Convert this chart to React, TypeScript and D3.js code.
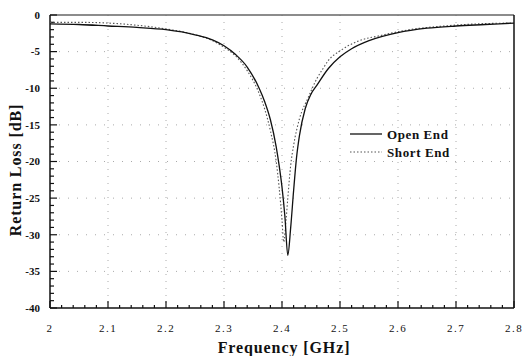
import React, { useEffect, useRef } from 'react';
import * as d3 from 'd3';

const openFreq = [2.0, 2.05, 2.1, 2.15, 2.2, 2.25, 2.28, 2.3, 2.32, 2.34, 2.36, 2.37, 2.38, 2.39, 2.395, 2.4, 2.405, 2.41, 2.415, 2.42, 2.425, 2.43, 2.44, 2.45, 2.46, 2.48, 2.5, 2.52, 2.55, 2.6, 2.65, 2.7, 2.75, 2.8];
const openLoss = [-1.2, -1.3, -1.5, -1.7, -2.0, -2.7, -3.4, -4.2, -5.4, -7.1, -9.9, -11.8, -14.3, -18.0, -20.5, -23.5, -27.5, -32.8, -29.0, -24.0, -19.5, -16.5, -12.8, -10.8, -9.6, -7.3, -5.7, -4.6, -3.5, -2.4, -1.8, -1.5, -1.3, -1.1];

const shortFreq = [2.0, 2.05, 2.1, 2.15, 2.2, 2.25, 2.28, 2.3, 2.32, 2.34, 2.36, 2.37, 2.38, 2.39, 2.395, 2.4, 2.403, 2.407, 2.41, 2.415, 2.42, 2.43, 2.445, 2.46, 2.47, 2.48, 2.5, 2.53, 2.57, 2.62, 2.68, 2.74, 2.8];
const shortLoss = [-1.0, -1.0, -1.1, -1.4, -1.9, -2.7, -3.5, -4.4, -5.6, -7.6, -10.6, -12.8, -15.8, -20.0, -23.5, -28.0, -31.0, -28.0, -25.0, -20.5, -17.8, -14.2, -11.3, -8.7, -7.4, -6.2, -4.9, -3.6, -2.8, -2.0, -1.5, -1.2, -1.1];

const xTicks = [2, 2.1, 2.2, 2.3, 2.4, 2.5, 2.6, 2.7, 2.8];
const yTicks = [0, -5, -10, -15, -20, -25, -30, -35, -40];
const legendNames = ['Open End', 'Short End'];

const Chart = ({ width = 524, height = 356 }) => {
  const svgRef = useRef(null);

  useEffect(() => {
    const svg = d3.select(svgRef.current);
    svg.selectAll('*').remove();

    const left = 50, right = 514, top = 15, bottom = 308;
    const x = d3.scaleLinear().domain([2, 2.8]).range([left, right]);
    const y = d3.scaleLinear().domain([-40, 0]).range([bottom, top]);
    const font = '"Liberation Serif", "DejaVu Serif", serif';

    // dotted grid
    const grid = svg.append('g');
    grid.selectAll('.gx')
      .data(xTicks.slice(1, -1))
      .enter()
      .append('line')
      .attr('x1', d => x(d)).attr('x2', d => x(d))
      .attr('y1', top).attr('y2', bottom)
      .attr('stroke', '#aaa')
      .attr('stroke-width', 1)
      .attr('stroke-dasharray', '1,6');
    grid.selectAll('.gy')
      .data(yTicks.slice(1, -1))
      .enter()
      .append('line')
      .attr('x1', left).attr('x2', right)
      .attr('y1', d => y(d)).attr('y2', d => y(d))
      .attr('stroke', '#aaa')
      .attr('stroke-width', 1)
      .attr('stroke-dasharray', '1,8');

    // frame
    svg.append('line').attr('x1', left).attr('x2', right).attr('y1', top).attr('y2', top)
      .attr('stroke', '#666').attr('stroke-width', 1.5);
    svg.append('line').attr('x1', right).attr('x2', right).attr('y1', top).attr('y2', bottom)
      .attr('stroke', '#111').attr('stroke-width', 1.5);
    svg.append('line').attr('x1', left).attr('x2', left).attr('y1', top).attr('y2', bottom)
      .attr('stroke', '#111').attr('stroke-width', 1.5);
    svg.append('line').attr('x1', left).attr('x2', right).attr('y1', bottom).attr('y2', bottom)
      .attr('stroke', '#111').attr('stroke-width', 1.5);

    // inward ticks
    const xMinor = d3.range(0, 41).map(i => 2 + i * 0.02);
    svg.selectAll('.xt')
      .data(xMinor)
      .enter()
      .append('line')
      .attr('x1', d => x(d)).attr('x2', d => x(d))
      .attr('y1', bottom)
      .attr('y2', (d, i) => bottom - (i % 5 === 0 ? 7 : 3))
      .attr('stroke', '#111')
      .attr('stroke-width', 1.2);
    const yMinor = d3.range(0, 41).map(i => -i);
    svg.selectAll('.yt')
      .data(yMinor)
      .enter()
      .append('line')
      .attr('y1', d => y(d)).attr('y2', d => y(d))
      .attr('x1', left)
      .attr('x2', (d, i) => left + (i % 5 === 0 ? 7 : 4))
      .attr('stroke', '#111')
      .attr('stroke-width', 1.2);

    // tick labels
    svg.selectAll('.xl')
      .data(xTicks)
      .enter()
      .append('text')
      .attr('x', d => x(d))
      .attr('y', bottom + 24)
      .attr('text-anchor', 'middle')
      .attr('font-family', font)
      .attr('font-size', 11)
      .attr('letter-spacing', 1.5)
      .attr('fill', '#111')
      .text(d => String(d));
    svg.selectAll('.yl')
      .data(yTicks)
      .enter()
      .append('text')
      .attr('x', 40)
      .attr('y', d => y(d))
      .attr('dy', '0.35em')
      .attr('text-anchor', 'end')
      .attr('font-family', font)
      .attr('font-size', 11)
      .attr('font-weight', 'bold')
      .attr('fill', '#111')
      .text(d => String(d));

    // axis titles
    svg.append('text')
      .attr('x', 284)
      .attr('y', 353)
      .attr('text-anchor', 'middle')
      .attr('font-family', font)
      .attr('font-size', 16)
      .attr('letter-spacing', 0.9)
      .attr('font-weight', 'bold')
      .attr('fill', '#111')
      .text('Frequency [GHz]');
    svg.append('text')
      .attr('transform', `translate(21, 170) rotate(-90)`)
      .attr('text-anchor', 'middle')
      .attr('font-family', font)
      .attr('font-size', 16)
      .attr('letter-spacing', 0.9)
      .attr('font-weight', 'bold')
      .attr('fill', '#111')
      .text('Return Loss [dB]');

    // curves
    const line = d3.line()
      .x(d => x(d[0]))
      .y(d => y(d[1]))
      .curve(d3.curveMonotoneX);

    svg.append('path')
      .attr('d', line(shortFreq.map((f, i) => [f, shortLoss[i]])))
      .attr('fill', 'none')
      .attr('stroke', '#555')
      .attr('stroke-width', 1.1)
      .attr('stroke-dasharray', '1.5,2');
    svg.append('path')
      .attr('d', line(openFreq.map((f, i) => [f, openLoss[i]])))
      .attr('fill', 'none')
      .attr('stroke', '#111')
      .attr('stroke-width', 1.3);

    // legend
    const lg = svg.append('g').attr('transform', 'translate(350, 134)');
    legendNames.forEach((name, i) => {
      lg.append('line')
        .attr('x1', 0).attr('x2', 32)
        .attr('y1', i * 18).attr('y2', i * 18)
        .attr('stroke', i === 0 ? '#111' : '#555')
        .attr('stroke-width', i === 0 ? 1.3 : 1.1)
        .attr('stroke-dasharray', i === 0 ? null : '1.5,2');
      lg.append('text')
        .attr('x', 37)
        .attr('y', i * 18)
        .attr('dy', '0.35em')
        .attr('font-family', font)
        .attr('font-size', 13)
        .attr('letter-spacing', 0.6)
        .attr('font-weight', 'bold')
        .attr('fill', '#111')
        .text(name);
    });
  }, [width, height]);

  return (
    <svg
      ref={svgRef}
      width={width}
      height={height}
      style={{ position: 'absolute', left: 0, top: 0, background: '#fff' }}
    ></svg>
  );
};

export default function App() {
  return <Chart />;
}
